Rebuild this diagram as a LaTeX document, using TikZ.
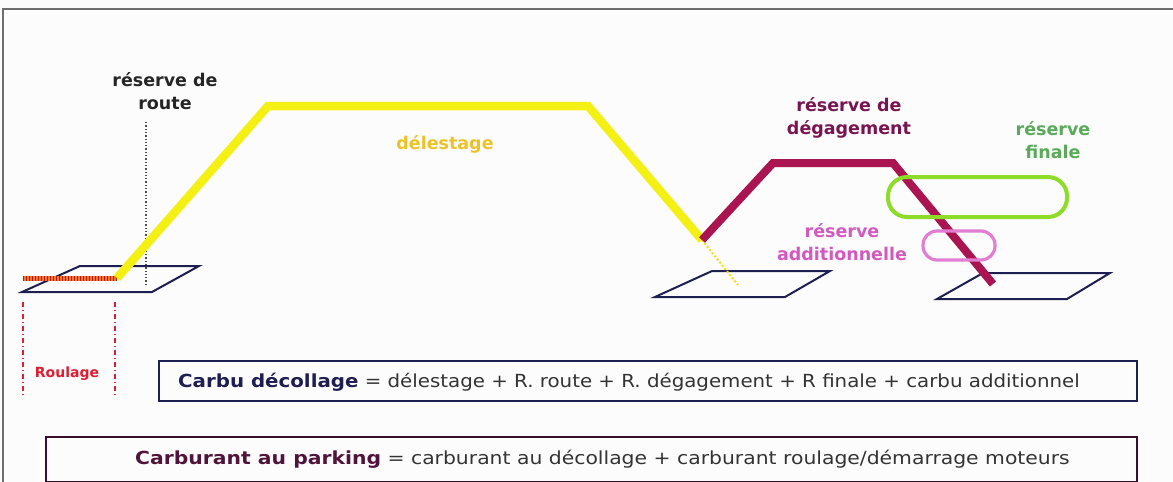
\documentclass[tikz,border=0pt]{standalone}
\usepackage{fontspec}
\setmainfont{DejaVu Sans}
\usetikzlibrary{calc}
\definecolor{yel}{RGB}{245,240,20}
\definecolor{yeltxt}{RGB}{235,195,40}
\definecolor{crim}{RGB}{170,20,80}
\definecolor{crimtxt}{RGB}{120,20,80}
\definecolor{grn}{RGB}{140,220,40}
\definecolor{grntxt}{RGB}{90,170,90}
\definecolor{pnk}{RGB}{225,125,210}
\definecolor{pnktxt}{RGB}{210,90,190}
\definecolor{org}{RGB}{240,120,40}
\definecolor{rd}{RGB}{220,30,50}
\definecolor{navy}{RGB}{30,30,80}
\definecolor{plum}{RGB}{80,20,60}
\definecolor{frame}{RGB}{110,110,110}
\definecolor{bg}{RGB}{252,252,252}
\begin{document}
\begin{tikzpicture}[x=1pt,y=-1pt,
  lbl/.style={font=\bfseries\fontsize{17.5}{23}\selectfont,align=center,inner sep=0pt},
  pad/.style={draw=navy,line width=2pt,line join=miter},
  eqbox/.style={draw,line width=1.6pt,minimum height=#1,inner sep=0pt,anchor=north west},
  eqtxt/.style={font=\fontsize{18}{20}\selectfont,text=black!80,anchor=west,inner sep=0pt},
]
\fill[bg] (0,0) rectangle (1173,482);
\useasboundingbox (0,0) rectangle (1173,482);
\draw[frame,line width=1.5pt] (1173,9) -- (3,9) -- (3,482);

% pads
\draw[pad] (22,292) -- (152,292) -- (199,266) -- (80,266) -- cycle;
\draw[pad] (655,297) -- (785,297) -- (830,271) -- (712,271) -- cycle;
\draw[pad] (937,299) -- (1067,299) -- (1110,273) -- (983,273) -- cycle;

% reserve de route dotted
\draw[black!70,line width=1.3pt,dotted] (146,122) -- (146,284);

% coordinates
\coordinate (t0) at (23,278);
\coordinate (t1) at (117,278);
\coordinate (c1) at (268,106);
\coordinate (c2) at (588,106);
\coordinate (d1) at (702,240);
\coordinate (d2) at (738,285);
\coordinate (m1) at (773,163);
\coordinate (m2) at (893,163);
\coordinate (m3) at (993,284);

% roulage
\draw[org,line width=5pt] (t0) -- (t1);
\draw[rd!80!black,line width=5pt,dash pattern=on 1pt off 2pt] (t0) -- (t1);

% delestage
\draw[yel,line width=8.5pt,line join=miter] (t1) -- (c1) -- (c2) -- (d1);
\draw[yel!80!orange,line width=2pt,dotted] (d1) -- (d2);

% degagement
\draw[crim,line width=8pt,line join=miter] (d1) -- (m1) -- (m2) -- (m3);

% finale & additionnelle
\draw[grn,line width=4pt,rounded corners=19pt] (888,177) rectangle (1067,217);
\draw[pnk,line width=3.2pt,rounded corners=14pt] (923,231) rectangle (995,260);

% roulage dash-dot
\draw[rd,line width=1.4pt,dash pattern=on 5pt off 3pt on 1pt off 3pt] (23,302) -- (23,395);
\draw[rd,line width=1.4pt,dash pattern=on 5pt off 3pt on 1pt off 3pt] (115,302) -- (115,395);

% labels
\node[lbl,text=black!85] (lroute) at (165,91) {réserve de\\route};
\node[lbl,text=yeltxt] (ldel) at (445,144) {délestage};
\node[lbl,text=crimtxt] (ldeg) at (849,118) {réserve de\\dégagement};
\node[lbl,text=grntxt] (lfin) at (1053,140) {réserve\\finale};
\node[lbl,text=pnktxt] (ladd) at (842,242) {réserve\\additionnelle};
\node[font=\bfseries\fontsize{14}{16}\selectfont,text=rd] (lroul) at (67,374) {Roulage};

% equation boxes
\node[eqbox=40pt,draw=navy,minimum width=978pt] (b1) at (158,360) {};
\node[eqtxt] (t1txt) at ($(b1.west)+(20,1)$)
  {\scalebox{1.1}[1]{\textbf{\textcolor{navy}{Carbu décollage}} = délestage + R. route + R. dégagement + R finale + carbu additionnel}};
\node[eqbox=45pt,draw=plum!70!black,minimum width=1091pt] (b2) at (45,436) {};
\node[eqtxt] (t2txt) at ($(b2.west)+(90,0)$)
  {\scalebox{1.13}[1]{\textbf{\textcolor{plum}{Carburant au parking}} = carburant au décollage + carburant roulage/démarrage moteurs}};
\end{tikzpicture}
\end{document}
